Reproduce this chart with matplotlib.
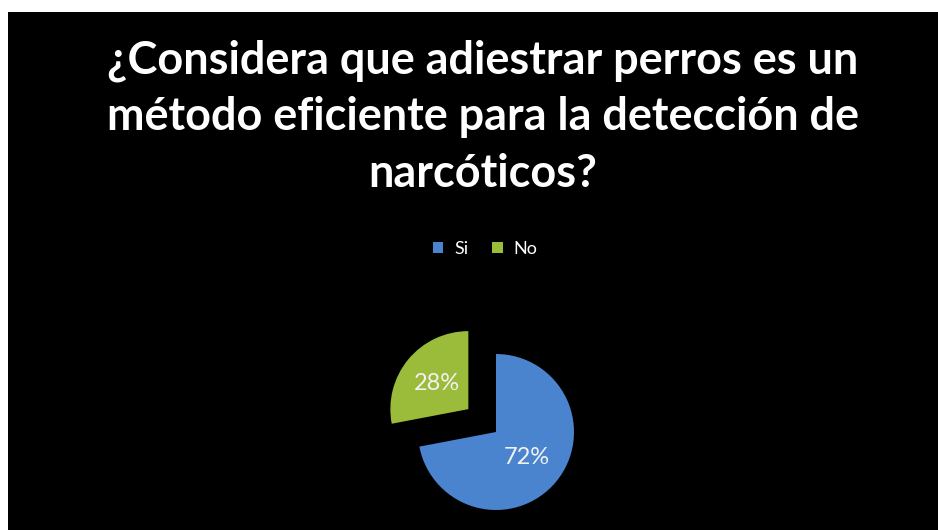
import matplotlib.pyplot as plt
from matplotlib.patches import Patch, Rectangle

# data
labels = ['Si', 'No']
values = [72, 28]
colors = ['#4a84ce', '#9bbb3b']
explode = [0.0, 0.46]
title_lines = ['¿Considera que adiestrar perros es un',
               'método eficiente para la detección de',
               'narcóticos?']

W, H = 938, 530
fig = plt.figure(figsize=(W / 100, H / 100), dpi=100)
fig.patch.set_facecolor('white')

# black chart area
fig.patches.append(Rectangle((8 / W, 0), 1 - 8 / W, 1 - 12 / H,
                             transform=fig.transFigure, facecolor='black',
                             edgecolor='none', zorder=-1))

# title, one line per baseline
for i, line in enumerate(title_lines):
    fig.text(483 / W, 1 - (73 + 57 * i) / H, line, ha='center', va='baseline',
             color='white', fontsize=32.4, fontweight='bold', family='Lato')

# legend
handles = [Patch(facecolor=c, edgecolor='none') for c in colors]
fig.legend(handles, labels, loc='center', bbox_to_anchor=(485 / W, 1 - 249 / H),
           ncol=2, frameon=False, labelcolor='white', handlelength=0.6,
           handleheight=0.6, handletextpad=0.6, columnspacing=1.3,
           prop={'family': 'Lato', 'size': 13})

# pie: radius ~78 px, center of the blue slice at (496, 432)
r = 78
lim = 1.6
size = 2 * lim * r
ax = fig.add_axes([(496 - size / 2) / W, (H - 432 - size / 2) / H, size / W, size / H])
ax.set_zorder(2)
ax.set_facecolor('none')
wedges, texts, autotexts = ax.pie(values, colors=colors, explode=explode,
                                  startangle=90, counterclock=False,
                                  autopct='%d%%', pctdistance=0.52,
                                  textprops={'color': '#f2f2f2', 'fontsize': 17,
                                             'family': 'Lato'})
ax.set_xlim(-lim, lim)
ax.set_ylim(-lim, lim)
ax.set_aspect('equal')
ax.axis('off')

fig.savefig('out.png', dpi=100, facecolor='white')
